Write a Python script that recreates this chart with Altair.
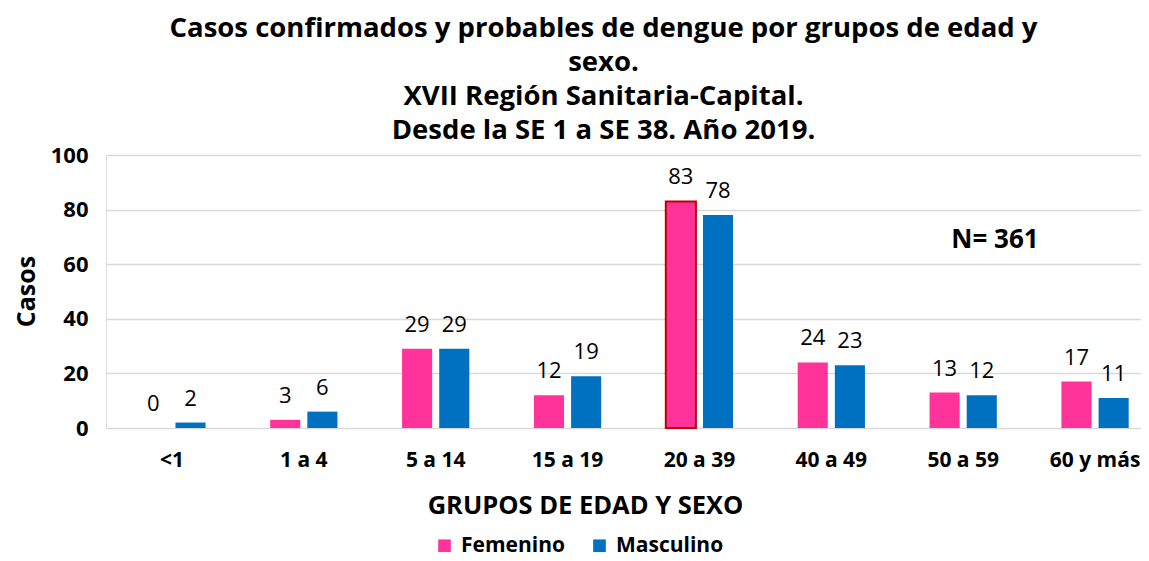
import altair as alt
import pandas as pd

grupos = ["<1", "1 a 4", "5 a 14", "15 a 19", "20 a 39", "40 a 49", "50 a 59", "60 y más"]
femenino = [0, 3, 29, 12, 83, 24, 13, 17]
masculino = [2, 6, 29, 19, 78, 23, 12, 11]
sexos = ["Femenino", "Masculino"]
colores = ["#FF3399", "#0070C0"]
y_ticks = [0, 20, 40, 60, 80, 100]
titulo = [
    "Casos confirmados y probables de dengue por grupos de edad y",
    "sexo.",
    "XVII Región Sanitaria-Capital.",
    "Desde la SE 1 a SE 38. Año 2019.",
]
total_label = "N= 361"
total_y = 69

rows = []
for g, f, m in zip(grupos, femenino, masculino):
    rows.append({"grupo": g, "sexo": "Femenino", "casos": f})
    rows.append({"grupo": g, "sexo": "Masculino", "casos": m})
df = pd.DataFrame(rows)

FONT = "Open Sans"

x_enc = alt.X(
    "grupo:N",
    sort=grupos,
    scale=alt.Scale(range=[0, 1055], paddingInner=0.49, paddingOuter=0.245),
    axis=alt.Axis(
        title="GRUPOS DE EDAD Y SEXO",
        labelAngle=0,
        labelFont=FONT,
        labelFontSize=21,
        labelFontWeight="bold",
        labelColor="#000000",
        labelPadding=21,
        domain=False,
        ticks=False,
        titleFont=FONT,
        titleFontSize=25.5,
        titleFontWeight="bold",
        titleColor="#000000",
        titleX=479,
        titleY=77,
        titleBaseline="middle",
        titleAlign="center",
    ),
)
xoff = alt.XOffset("sexo:N", sort=sexos, scale=alt.Scale(paddingInner=0.19, paddingOuter=0))

y_enc = alt.Y(
    "casos:Q",
    scale=alt.Scale(domain=[0, 100]),
    axis=alt.Axis(
        values=y_ticks,
        title="Casos",
        labelFont=FONT,
        labelFontSize=22,
        labelFontWeight="bold",
        labelColor="#000000",
        labelPadding=18,
        domain=False,
        ticks=False,
        gridColor="#D9D9D9",
        gridWidth=1.5,
        titleFont=FONT,
        titleFontSize=25,
        titleFontWeight="bold",
        titleColor="#000000",
        titleX=-80,
        titleY=136,
        titleAngle=-90,
        titleAlign="center",
        titleBaseline="middle",
    ),
)

base = alt.Chart(df).encode(x=x_enc, xOffset=xoff)

bars = base.mark_bar(strokeWidth=2).encode(
    y=y_enc,
    color=alt.Color(
        "sexo:N",
        sort=sexos,
        scale=alt.Scale(domain=sexos, range=colores),
        legend=alt.Legend(
            title=None,
            orient="none",
            direction="horizontal",
            legendX=328,
            legendY=380,
            symbolType="square",
            symbolSize=160,
            symbolStrokeWidth=0,
            labelFont=FONT,
            labelFontSize=21,
            labelFontWeight="bold",
            labelColor="#000000",
            labelOffset=6,
            columnPadding=24,
        ),
    ),
    stroke=alt.condition(
        "datum.grupo == '20 a 39' && datum.sexo == 'Femenino'",
        alt.value("#C00000"),
        alt.value("transparent"),
    ),
)

labels = base.mark_text(
    font=FONT, fontSize=22, color="#000000", baseline="alphabetic", dy=-17
).encode(y="casos:Q", text="casos:Q")

total = alt.Chart(pd.DataFrame({"t": [total_label], "v": [total_y]})).mark_text(
    font=FONT, fontSize=26, fontWeight="bold", color="#000000", baseline="middle", align="center"
).encode(x=alt.value(889), y=alt.Y("v:Q", scale=alt.Scale(domain=[0, 100])), text="t:N")

chart = (
    alt.layer(bars, labels, total)
    .properties(
        width=1035,
        height=273,
        title=alt.TitleParams(
            text=titulo,
            font=FONT,
            fontSize=27.5,
            fontWeight="bold",
            color="#000000",
            anchor="middle",
            lineHeight=34,
            dx=-20,
            offset=0,
        ),
        autosize=alt.AutoSizeParams(type="none"),
        padding={"left": 98, "top": 147, "right": 0, "bottom": 130},
    )
    .configure_view(stroke=None)
    .configure(background="white")
)

chart.save("out.html", embed_options={"renderer": "svg", "actions": False})
